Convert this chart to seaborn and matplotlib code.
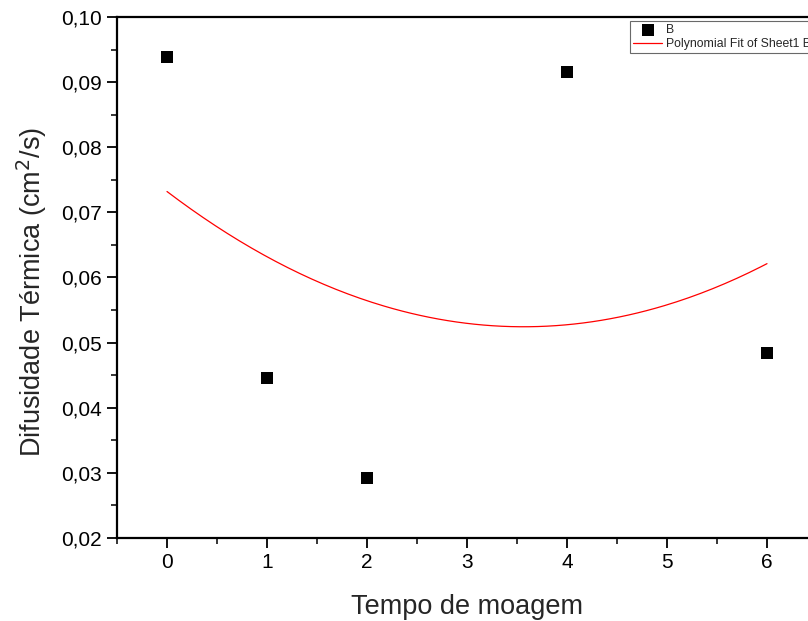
import numpy as np
import pandas as pd
import matplotlib
matplotlib.use("Agg")
import matplotlib.pyplot as plt
from matplotlib.ticker import MultipleLocator, FuncFormatter
import seaborn as sns

# data
tempo = [0, 1, 2, 4, 6]
difusidade = [0.0939, 0.0446, 0.0292, 0.0916, 0.0484]

sns.set_style("ticks")
plt.rcParams['font.family'] = ['Liberation Sans', 'DejaVu Sans']

df = pd.DataFrame({"x": tempo, "y": difusidade})
coef = np.polyfit(df["x"], df["y"], 2)
xf = np.linspace(0, 6, 200)
fit = pd.DataFrame({"x": xf, "y": np.polyval(coef, xf)})

fig = plt.figure(figsize=(8.08, 6.21), dpi=100)
ax = fig.add_axes([117/808, 83/621, 700/808, 521/621])

sns.lineplot(data=fit, x="x", y="y", ax=ax, color="red", linewidth=0.9,
             label="Polynomial Fit of Sheet1 B", zorder=2)
sns.scatterplot(data=df, x="x", y="y", ax=ax, marker="s", s=70, color="black",
                edgecolor="black", linewidth=0, label="B", zorder=3)

ax.set_xlim(-0.5, 6.5)
ax.set_ylim(0.02, 0.10)
ax.xaxis.set_major_locator(MultipleLocator(1))
ax.xaxis.set_minor_locator(MultipleLocator(0.5))
ax.yaxis.set_major_locator(MultipleLocator(0.01))
ax.yaxis.set_minor_locator(MultipleLocator(0.005))
ax.yaxis.set_major_formatter(FuncFormatter(lambda v, p: f"{v:.2f}".replace(".", ",")))
ax.xaxis.set_major_formatter(FuncFormatter(lambda v, p: f"{v:.0f}"))

ax.tick_params(which="major", direction="out", length=7, width=1.3, labelsize=15,
               colors="black", pad=4)
ax.tick_params(which="minor", direction="out", length=4, width=1.3)
for s in ax.spines.values():
    s.set_linewidth(1.6)
    s.set_color("black")
    s.set_visible(True)

ax.set_xlabel("Tempo de moagem", fontsize=19.5, labelpad=16)
ax.set_ylabel("Difusidade Térmica (cm$^2$/s)", fontsize=19.5)
ax.yaxis.set_label_coords(-0.097, 0.472)

handles, labels = ax.get_legend_handles_labels()
order = [labels.index("B"), labels.index("Polynomial Fit of Sheet1 B")]
leg = ax.legend([handles[i] for i in order], [labels[i] for i in order],
                loc="upper left", bbox_to_anchor=((630-117)/700, (538-21)/521),
                fontsize=8.8, frameon=True, fancybox=False, borderpad=0.25,
                labelspacing=0.15, handlelength=2.4, handletextpad=0.3,
                borderaxespad=0)
leg.get_frame().set_edgecolor("#444444")
leg.get_frame().set_linewidth(0.8)

fig.savefig("out.png", dpi=100)
